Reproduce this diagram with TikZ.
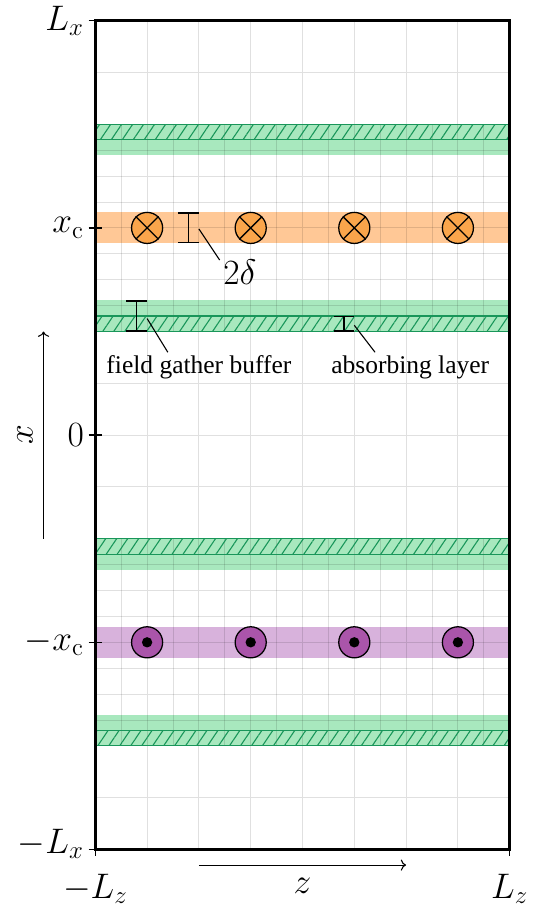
\RequirePackage{fix-cm}
\documentclass[tikz,border=0pt]{standalone}
\usepackage[no-math]{fontspec}
\setmainfont{Liberation Serif}
\usetikzlibrary{arrows.meta,patterns.meta}

\definecolor{bandgreen}{RGB}{168,232,190}
\definecolor{hatchgreen}{RGB}{25,150,90}
\definecolor{bandorange}{RGB}{255,200,150}
\definecolor{wireorange}{RGB}{250,165,75}
\definecolor{bandpurple}{RGB}{216,178,220}
\definecolor{wirepurple}{RGB}{170,85,170}

\begin{document}
\begin{tikzpicture}[
    gridline/.style={draw=black, draw opacity=0.12, line width=0.5pt},
    buffer/.style={fill=bandgreen},
    absorber/.style={draw=hatchgreen, line width=0.6pt, pattern={Lines[angle=56,distance=5pt,line width=0.6pt]}, pattern color=hatchgreen},
    wirein/.style={circle, draw=black, line width=0.7pt, fill=wireorange, minimum size=0.6cm, inner sep=0pt},
    wireout/.style={circle, draw=black, line width=0.7pt, fill=wirepurple, minimum size=0.6cm, inner sep=0pt},
    mathlbl/.style={inner sep=1pt, font=\fontsize{19.5}{23}\selectfont},
    txtlbl/.style={inner sep=1pt, font=\fontsize{14}{17}\selectfont},
    tick/.style={line width=0.8pt},
    ibar/.style={line width=0.7pt, {Bar[width=0.4cm]}-{Bar[width=0.4cm]}},
    leader/.style={line width=0.6pt},
    arrow/.style={line width=0.6pt,->}
]

\useasboundingbox (-5.84,-9.11) rectangle (4.47,8.40);

% Bands
\fill[bandorange] (-4,3.7) rectangle (4,4.3);
\fill[bandpurple] (-4,-4.3) rectangle (4,-3.7);
\foreach \s in {1,-1} {
  \fill[buffer] (-4,{5.4*\s}) rectangle (4,{6*\s});
  \fill[buffer] (-4,{2*\s}) rectangle (4,{2.6*\s});
}

% Grid
\draw[gridline] (-4,-8) grid (4,8);
\foreach \s in {1,-1} {
  \foreach \z in {-3.5,-2.5,...,3.5}
    \draw[gridline] (\z,{2*\s}) -- (\z,{6*\s});
  \foreach \x in {2.5,3.5,4.5,5.5}
    \draw[gridline] (-4,{\x*\s}) -- (4,{\x*\s});
}

% Absorbing layers
\foreach \s in {1,-1} {
  \path[absorber] (-4,{5.7*\s}) rectangle (4,{6*\s});
  \path[absorber] (-4,{2*\s}) rectangle (4,{2.3*\s});
}

% Wires
\foreach \z [count=\i] in {-3,-1,1,3} {
  \node (win\i) [wirein] at (\z,4) {};
  \draw[line width=0.7pt] (win\i.north east) -- (win\i.south west)
                          (win\i.north west) -- (win\i.south east);
  \node (wout\i) [wireout] at (\z,-4) {};
  \fill (wout\i.center) circle (0.1);
}

% Domain
\draw[line width=1.6pt] (-4,-8) rectangle (4,8);

% Ticks and labels
\foreach \y/\lab/\dy [count=\i] in {8/L_x/0, 4/x_{\mathrm{c}}/0, 0/0/0, -4/-x_{\mathrm{c}}/0, -8/-L_x/3pt} {
  \draw[tick] (-4.13,\y) -- (-3.87,\y);
  \node (xtick\i) [mathlbl, anchor=east, yshift=\dy] at (-4.18,\y) {$\lab$};
}
\foreach \z/\lab [count=\i] in {-4/-L_z, 4/L_z} {
  \draw[tick] (\z,-7.87) -- (\z,-8.13);
  \node (ztick\i) [mathlbl, inner sep=0pt, anchor=north] at (\z,-8.47) {$\lab$};
}

% Axis arrows
\coordinate (xfrom) at (-5,-2);
\coordinate (xto) at (-5,2);
\draw[arrow] (xfrom) -- (xto);
\node (xlab) [mathlbl, rotate=90] at (-5.36,0) {$x$};
\coordinate (zfrom) at (-2,-8.3);
\coordinate (zto) at (2,-8.3);
\draw[arrow] (zfrom) -- (zto);
\node (zlab) [mathlbl] at (0,-8.7) {$z$};

% Width markers
\coordinate (dbot) at (-2.2,3.7);
\coordinate (dtop) at (-2.2,4.3);
\draw[ibar] (dbot) -- (dtop);
\coordinate (dfrom) at (-2.0,3.98);
\coordinate (dto) at (-1.6,3.38);
\draw[leader] (dfrom) -- (dto);
\node (dlab) [mathlbl, anchor=north west] at (-1.57,3.43) {$2\delta$};

\coordinate (fbot) at (-3.2,2.0);
\coordinate (ftop) at (-3.2,2.6);
\draw[ibar] (fbot) -- (ftop);
\coordinate (ffrom) at (-3.0,2.25);
\coordinate (fto) at (-2.6,1.6);
\draw[leader] (ffrom) -- (fto);
\node (flab) [txtlbl, anchor=north] at (-2.0,1.58) {field gather buffer};

\coordinate (abot) at (0.8,2.0);
\coordinate (atop) at (0.8,2.3);
\draw[ibar] (abot) -- (atop);
\coordinate (afrom) at (1.0,2.12);
\coordinate (ato) at (1.4,1.6);
\draw[leader] (afrom) -- (ato);
\node (alab) [txtlbl, anchor=north] at (2.08,1.58) {absorbing layer};

\end{tikzpicture}
\end{document}
